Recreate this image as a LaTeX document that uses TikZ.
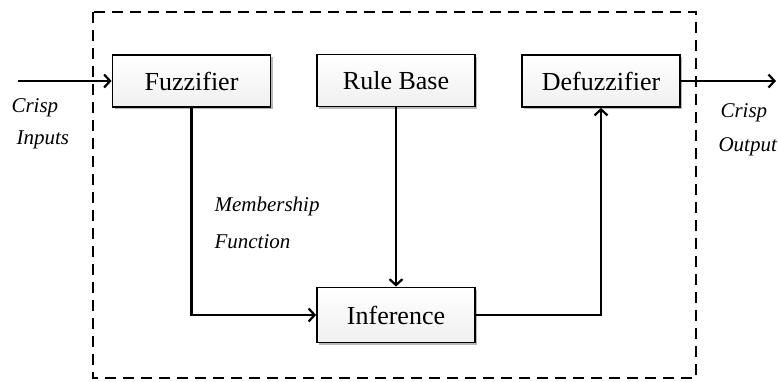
\documentclass[tikz,border=0pt]{standalone}
\usepackage{fontspec}
\setmainfont{Liberation Serif}
\usepackage{tikz}
\usetikzlibrary{arrows.meta, shadows}

\begin{document}
\begin{tikzpicture}[x=1pt, y=-1pt,
		block/.style={draw, line width=1.8pt, minimum width=158pt, minimum height=52pt, top color=white, bottom color=gray!12, drop shadow={shadow xshift=2pt, shadow yshift=-2pt, fill=gray!70, opacity=0.8}, font=\fontsize{26}{30}\selectfont},
		flow/.style={line width=2.2pt, -{Straight Barb[length=6pt, width=13pt]}},
		lbl/.style={font=\fontsize{21}{24}\selectfont\itshape, anchor=west}]
		\useasboundingbox (0,0) rectangle (778,381);
		% dashed system border
		\draw[line width=2.8pt, dash pattern=on 11pt off 7pt] (93,12) rectangle (696,378);
		\coordinate (in) at (18,81);
		\coordinate (out) at (776,81);
		\node[block] (fuzz) at (191.5,81) {Fuzzifier};
		\node[block] (rule) at (396,80.5) {Rule Base};
		\node[block] (defuzz) at (601,81) {Defuzzifier};
		\node[block, minimum height=55pt] (infer) at (396,315) {Inference};
		\draw[flow] (in) -- (fuzz.west);
		\draw[flow] (defuzz.east) -- (out);
		\draw[flow] (fuzz.south) |- (infer.west);
		\draw[flow] (rule.south) -- (infer.north);
		\draw[flow] (infer.east) -| (defuzz.south);
		\node[lbl] (crispin) at (8,108) {Crisp};
		\node[lbl] (inputs) at (13,140) {Inputs};
		\node[lbl] (crispout) at (717,113) {Crisp};
		\node[lbl] (output) at (715,147) {Output};
		\node[lbl] (member) at (211,206) {Membership};
		\node[lbl] (func) at (211,242) {Function};
	\end{tikzpicture}
\end{document}
